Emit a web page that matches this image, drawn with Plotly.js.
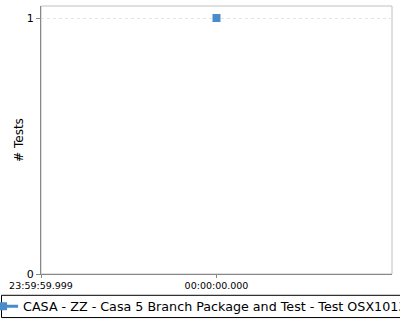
<!DOCTYPE html>
<html>
<head>
<meta charset="utf-8">
<script src="https://cdn.plot.ly/plotly-3.0.1.min.js"></script>
<style>
  html, body { margin: 0; padding: 0; background: #fff; }
  #chart { width: 400px; height: 320px; }
</style>
</head>
<body>
<div id="chart"></div>
<script>
// Build timestamps and their test counts
const seriesName = 'CASA - ZZ - Casa 5 Branch Package and Test - Test OSX1013';
const runTimes = ['2000-01-01 00:00:00.000'];
const testCounts = [1];

// Visible time window and the tick positions along it
const timeRange = ['1999-12-31 23:59:59.999', '2000-01-01 00:00:00.001'];
const timeTicks = ['1999-12-31 23:59:59.999', '2000-01-01 00:00:00.000'];
const countTicks = [0, 1];

const seriesColor = '#4a8cc9';

const trace = {
  type: 'scatter',
  mode: 'lines+markers',
  name: seriesName,
  x: runTimes,
  y: testCounts,
  line: { color: seriesColor, width: 3 },
  marker: { symbol: 'square', size: 8, color: seriesColor },
  showlegend: true,
  cliponaxis: false
};

const layout = {
  width: 400,
  height: 320,
  margin: { l: 41, r: 8, t: 6, b: 46, autoexpand: false },
  paper_bgcolor: '#ffffff',
  plot_bgcolor: '#ffffff',
  font: { family: 'DejaVu Sans, sans-serif', color: '#000' },
  xaxis: {
    type: 'date',
    range: timeRange,
    tickmode: 'array',
    tickvals: timeTicks,
    tickformat: '%H:%M:%S.%L',
    tickfont: { size: 9.5, family: 'DejaVu Sans' },
    ticks: 'outside',
    ticklen: 3,
    tickcolor: '#888',
    showgrid: false,
    zeroline: false,
    showline: true,
    linecolor: '#888',
    linewidth: 1
  },
  yaxis: {
    range: [0, 1.047],
    tickmode: 'array',
    tickvals: countTicks,
    tickfont: { size: 11, family: 'DejaVu Sans' },
    ticks: 'outside',
    ticklen: 4,
    tickcolor: '#888',
    showgrid: true,
    gridcolor: '#e4e4e4',
    griddash: '3px,3px',
    zeroline: false,
    showline: true,
    linecolor: '#888',
    linewidth: 1,
    title: { text: '# Tests', font: { size: 12, family: 'DejaVu Sans' }, standoff: 0 }
  },
  shapes: [
    // light frame round the plot area
    {
      type: 'rect', xref: 'paper', yref: 'paper',
      x0: 0, x1: 1, y0: 0, y1: 1,
      line: { color: '#c0c0c0', width: 1 },
      layer: 'below'
    },
    // legend box frame
    {
      type: 'rect', xref: 'paper', yref: 'paper',
      x0: -0.1125, x1: 1.03, y0: -0.1625, y1: -0.0795,
      line: { color: '#000000', width: 1 },
      fillcolor: 'rgba(0,0,0,0)',
      layer: 'above'
    }
  ],
  showlegend: true,
  legend: {
    orientation: 'h',
    x: -0.165, xanchor: 'left',
    y: -0.121, yanchor: 'middle',
    bgcolor: 'rgba(0,0,0,0)',
    borderwidth: 0,
    font: { size: 12.7, family: 'DejaVu Sans' }
  }
};

Plotly.newPlot('chart', [trace], layout, { displayModeBar: false, staticPlot: true });
</script>
</body>
</html>
